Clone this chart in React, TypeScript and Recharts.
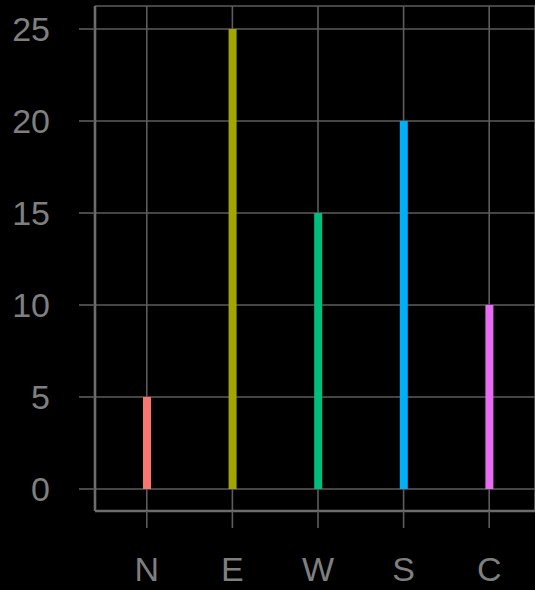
import { ComposedChart, Bar, Cell, XAxis, YAxis, CartesianGrid } from "recharts";

// compass regions and their counts
const regions = ["N", "E", "W", "S", "C"];
const counts = [5, 25, 15, 20, 10];
const colors = ["#F8766D", "#A3A500", "#00BF7D", "#00B0F6", "#E76BF3"];
const yTicks = [0, 5, 10, 15, 20, 25];

const data = regions.map((r, i) => ({ region: r, count: counts[i] }));

const AXIS = "#6c6c6c";
const GRID = "#5c5c5c";
const TEXT = "#7f7f7f";
const FONT = "'Liberation Sans', Arial, sans-serif";

export default function App() {
  return (
    <div style={{ width: 535, height: 590, background: "#000" }}>
      <style>{`body{margin:0;background:#000}`}</style>
      <ComposedChart
        width={535}
        height={590}
        data={data}
        margin={{ top: 6, right: 0, bottom: 0, left: 0 }}
      >
        <Bar dataKey="count" barSize={8} isAnimationActive={false}>
          {data.map((d, i) => (
            <Cell key={d.region} fill={colors[i]} />
          ))}
        </Bar>
        <CartesianGrid stroke={GRID} strokeWidth={1.6} />
        <XAxis
          dataKey="region"
          height={79}
          padding={{ left: 9, right: 3 }}
          stroke={AXIS}
          axisLine={{ stroke: AXIS, strokeWidth: 2.6 }}
          tickLine={{ stroke: GRID, strokeWidth: 1.6 }}
          tickSize={17}
          tickMargin={29}
          tick={{ fill: TEXT, fontSize: 34, fontFamily: FONT }}
        />
        <YAxis
          type="number"
          width={95}
          domain={[-1.196, 26.25]}
          ticks={yTicks}
          allowDataOverflow
          stroke={AXIS}
          axisLine={{ stroke: AXIS, strokeWidth: 2.6 }}
          tickLine={{ stroke: GRID, strokeWidth: 1.6 }}
          tickSize={16}
          tickMargin={29}
          tick={{ fill: TEXT, fontSize: 34, fontFamily: FONT }}
        />
      </ComposedChart>
    </div>
  );
}
